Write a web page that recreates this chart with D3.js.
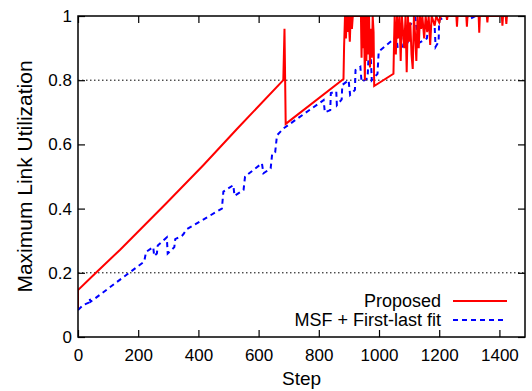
<!DOCTYPE html>
<html>
<head>
<meta charset="utf-8">
<script src="https://cdn.jsdelivr.net/npm/d3@7"></script>
<style>
  body { margin: 0; background: #fff; }
  text { font-family: "Liberation Sans", Arial, sans-serif; fill: #000; }
</style>
</head>
<body>
<div id="chart"></div>
<script>
// tick labels
var xTicks = [0, 200, 400, 600, 800, 1000, 1200, 1400];
var yTicks = [0, 0.2, 0.4, 0.6, 0.8, 1];
var gridValues = [0.2, 0.8];

// Proposed: [step, max link utilization]
var proposed = [
  [0,0.09],[0,0.146],[57,0.198],[140,0.272],[295,0.418],[417,0.536],[528,0.648],[682,0.80],
  [686,0.96],[690,0.664],[882,0.804],[884,0.905],[887,1.0],[890,0.93],[893,1.0],[896,0.95],
  [899,1.0],[903,0.92],[906,1.0],[910,0.96],[913,1.0],[940,1.0],[942,0.87],[944,1.0],
  [947,0.90],[950,1.0],[953,0.80],[955,1.0],[958,0.86],[961,1.0],[964,0.88],[967,1.0],
  [970,0.84],[973,0.96],[976,0.87],[979,1.0],[982,0.95],[984,0.782],[1048,0.82],[1050,0.92],
  [1052,1.0],[1056,0.88],[1060,1.0],[1064,0.93],[1068,1.0],[1072,0.86],[1076,1.0],[1080,0.95],
  [1084,0.90],[1088,1.0],[1092,0.825],[1096,1.0],[1100,0.92],[1104,0.98],[1108,0.88],[1112,0.835],
  [1116,1.0],[1120,0.94],[1124,0.86],[1128,1.0],[1132,0.90],[1136,1.0],[1140,0.96],[1144,1.0],
  [1150,0.93],[1155,1.0],[1160,0.95],[1165,1.0],[1170,0.91],[1175,1.0],[1185,0.97],[1190,1.0],
  [1200,0.98],[1205,1.0],[1224,1.0],[1226,0.988],[1228,1.0],[1257,1.0],[1259,0.967],[1261,1.0],
  [1290,1.0],[1292,0.967],[1294,1.0],[1331,1.0],[1333,0.948],[1335,1.0],[1358,1.0],[1360,0.98],
  [1362,1.0],[1408,1.0],[1410,0.97],[1412,1.0],[1421,1.0],[1423,0.975],[1425,1.0],[1427,1.0]
];

// MSF + First-last fit: [step, max link utilization]
var msf = [
  [0,0.084],[18,0.10],[36,0.107],[38,0.12],[42,0.11],[220,0.235],[226,0.265],[250,0.28],
  [253,0.252],[262,0.26],[265,0.285],[295,0.31],[298,0.26],[320,0.28],[323,0.305],[345,0.315],
  [350,0.32],[360,0.335],[478,0.40],[483,0.453],[516,0.473],[520,0.44],[550,0.458],[555,0.5],
  [611,0.541],[616,0.51],[640,0.525],[645,0.57],[655,0.575],[661,0.628],[683,0.65],[816,0.738],
  [820,0.70],[838,0.707],[840,0.76],[858,0.765],[860,0.722],[876,0.74],[878,0.785],[899,0.80],
  [904,0.754],[920,0.77],[922,0.832],[938,0.842],[942,0.795],[962,0.806],[965,0.868],[973,0.863],
  [976,0.80],[995,0.82],[999,0.889],[1058,0.935],[1062,0.9],[1080,0.905],[1083,0.945],[1090,0.95],
  [1095,0.915],[1099,0.967],[1121,0.993],[1130,0.915],[1159,0.93],[1162,0.956],[1185,0.965],
  [1188,0.904],[1198,0.92],[1200,0.988],[1226,1.0],[1290,1.0],[1300,0.99],[1320,1.0],[1427,1.0]
];

var margin = {top: 16, right: 7, bottom: 54, left: 78},
    width = 532 - margin.left - margin.right,
    height = 391 - margin.top - margin.bottom;

var svg = d3.select("#chart")
  .append("svg")
    .attr("width", 532)
    .attr("height", 391)
  .append("g")
    .attr("transform", "translate(" + margin.left + "," + margin.top + ")");

var x = d3.scaleLinear().domain([0, 1485]).range([0, width]);
var y = d3.scaleLinear().domain([0, 1]).range([height, 0]);

// grid lines
svg.selectAll(".grid")
  .data(gridValues)
  .enter()
  .append("line")
    .attr("x1", 0).attr("x2", width)
    .attr("y1", function(d) { return y(d); })
    .attr("y2", function(d) { return y(d); })
    .attr("stroke", "#000")
    .attr("stroke-width", 1)
    .attr("stroke-dasharray", "1.5,2.5");

// axes, ticks pointing inward on every side
svg.append("g")
  .attr("transform", "translate(0," + height + ")")
  .call(d3.axisBottom(x).tickValues(xTicks).tickSizeInner(-7).tickSizeOuter(0).tickPadding(12)
        .tickFormat(d3.format("d")))
  .call(function(g) { g.select(".domain").remove(); });
svg.append("g")
  .call(d3.axisTop(x).tickValues(xTicks).tickSizeInner(-7).tickSizeOuter(0).tickFormat(""))
  .call(function(g) { g.select(".domain").remove(); });
svg.append("g")
  .call(d3.axisLeft(y).tickValues(yTicks).tickSizeInner(-7).tickSizeOuter(0).tickPadding(6)
        .tickFormat(function(d) { return d === 0 || d === 1 ? d : d3.format(".1f")(d); }))
  .call(function(g) { g.select(".domain").remove(); });
svg.append("g")
  .attr("transform", "translate(" + width + ",0)")
  .call(d3.axisRight(y).tickValues(yTicks).tickSizeInner(-7).tickSizeOuter(0).tickFormat(""))
  .call(function(g) { g.select(".domain").remove(); });

svg.selectAll(".tick line").attr("stroke", "#000").attr("stroke-width", 1.2);
svg.selectAll(".tick text").style("font-size", "17px").style("font-family", "Liberation Sans, Arial, sans-serif");

// clip to plot area
svg.append("clipPath").attr("id", "clip")
  .append("rect").attr("width", width).attr("height", height);

var line = d3.line()
  .x(function(d) { return x(d[0]); })
  .y(function(d) { return y(d[1]); });

svg.append("path")
  .datum(msf)
  .attr("clip-path", "url(#clip)")
  .attr("fill", "none")
  .attr("stroke", "#0000ff")
  .attr("stroke-width", 2)
  .attr("stroke-dasharray", "5,4")
  .attr("d", line);

svg.append("path")
  .datum(proposed)
  .attr("clip-path", "url(#clip)")
  .attr("fill", "none")
  .attr("stroke", "#ff0000")
  .attr("stroke-width", 2)
  .attr("d", line);

// border
svg.append("rect")
  .attr("width", width).attr("height", height)
  .attr("fill", "none").attr("stroke", "#000").attr("stroke-width", 1.5);

// axis titles
svg.append("text")
  .attr("x", width / 2)
  .attr("y", height + 48)
  .attr("text-anchor", "middle")
  .style("font-size", "19px")
  .text("Step");

svg.append("text")
  .attr("transform", "translate(" + (-46) + "," + (height / 2) + ")rotate(-90)")
  .attr("text-anchor", "middle")
  .style("font-size", "21px")
  .text("Maximum Link Utilization");

// legend
var legend = [
  {name: "Proposed", color: "#ff0000", dash: null},
  {name: "MSF + First-last fit", color: "#0000ff", dash: "5,4"}
];
var lg = svg.selectAll(".legend")
  .data(legend)
  .enter()
  .append("g")
    .attr("transform", function(d, i) { return "translate(0," + (301 + i * 19 - margin.top) + ")"; });
lg.append("text")
  .attr("x", 441 - margin.left)
  .attr("y", 6)
  .attr("text-anchor", "end")
  .style("font-size", "18px")
  .text(function(d) { return d.name; });
lg.append("line")
  .attr("x1", 453 - margin.left).attr("x2", 507 - margin.left)
  .attr("y1", 0).attr("y2", 0)
  .attr("stroke", function(d) { return d.color; })
  .attr("stroke-width", 2)
  .attr("stroke-dasharray", function(d) { return d.dash; });
</script>
</body>
</html>
